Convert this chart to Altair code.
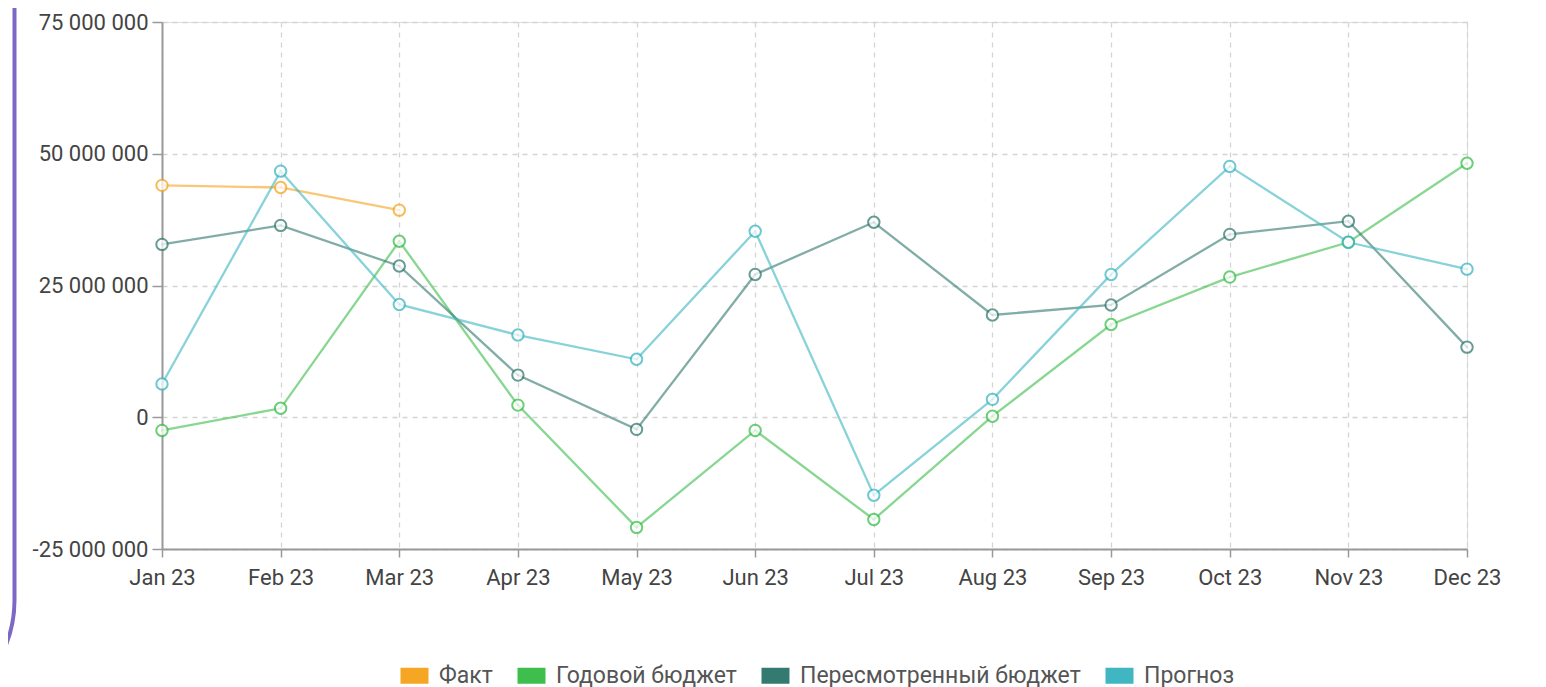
import altair as alt
import pandas as pd

months = ["Jan 23", "Feb 23", "Mar 23", "Apr 23", "May 23", "Jun 23",
          "Jul 23", "Aug 23", "Sep 23", "Oct 23", "Nov 23", "Dec 23"]

fact = [44.0e6, 43.6e6, 39.3e6]
annual_budget = [-2.5e6, 1.7e6, 33.4e6, 2.3e6, -20.9e6, -2.5e6,
                 -19.4e6, 0.2e6, 17.6e6, 26.6e6, 33.2e6, 48.2e6]
revised_budget = [32.8e6, 36.4e6, 28.7e6, 8.0e6, -2.3e6, 27.1e6,
                  37.0e6, 19.4e6, 21.3e6, 34.7e6, 37.2e6, 13.3e6]
forecast = [6.3e6, 46.7e6, 21.4e6, 15.6e6, 11.0e6, 35.3e6,
            -14.8e6, 3.4e6, 27.1e6, 47.6e6, 33.2e6, 28.1e6]

series_names = ["Факт", "Годовой бюджет", "Пересмотренный бюджет", "Прогноз"]
series_colors = ["#F5A623", "#3DBE4D", "#357A70", "#3FB6C2"]
y_ticks = [-25e6, 0, 25e6, 50e6, 75e6]

rows = []
for name, vals in zip(series_names, [fact, annual_budget, revised_budget, forecast]):
    for m, v in zip(months, vals):
        rows.append({"month": m, "series": name, "value": v})
df = pd.DataFrame(rows)

FONT = "Roboto"
FS = 22

x_enc = alt.X("month:N", sort=months, scale=alt.Scale(type="point", padding=0),
              axis=alt.Axis(title=None, labelAngle=0, labelFontSize=FS, labelColor="#444",
                            labelFont=FONT, tickSize=8, tickColor="#999", tickWidth=1.5,
                            domainColor="#999", domainWidth=2, labelPadding=10, grid=True,
                            gridDash=[5, 5], gridColor="#d4d4d4", gridWidth=1.3))
y_enc = alt.Y("value:Q", scale=alt.Scale(domain=[-25e6, 75e6], nice=False, zero=False),
              axis=alt.Axis(title=None, values=y_ticks, labelFontSize=FS, labelColor="#444",
                            labelFont=FONT, tickSize=10, tickColor="#999", tickWidth=1.5,
                            domainColor="#999", domainWidth=2, labelPadding=4, grid=True,
                            gridDash=[5, 5], gridColor="#d4d4d4", gridWidth=1.3,
                            labelExpr="(datum.value < 0 ? '-' : '') + join(split(format(abs(datum.value), ',d'), ','), ' ')"))

color_enc = alt.Color("series:N", scale=alt.Scale(domain=series_names, range=series_colors),
                      sort=series_names,
                      legend=alt.Legend(title=None, orient="none", direction="horizontal",
                                        legendX=241, legendY=642,
                                        symbolType="M-1.75,-1L1.75,-1L1.75,1L-1.75,1Z",
                                        symbolSize=256, symbolStrokeWidth=0, symbolOpacity=1,
                                        labelFontSize=23, labelColor="#555", labelFont=FONT,
                                        labelLimit=500, labelOffset=13, columnPadding=24))

base = alt.Chart(df)

legend_layer = base.mark_point(size=4, filled=True, shape="square", opacity=1).encode(
    x=x_enc, y=y_enc, color=color_enc,
)

lines = base.mark_line(strokeWidth=2.3, opacity=0.62).encode(
    x=x_enc, y=y_enc,
    color=alt.Color("series:N", legend=None),
    detail="series:N",
)

points = base.mark_point(filled=False, size=130, strokeWidth=2, opacity=0.75, fill="white", shape="circle").encode(
    x=x_enc, y=y_enc,
    color=alt.Color("series:N", legend=None),
)

border = alt.Chart(alt.Data(values=[{"a": 1}])).mark_rect(
    fill=None, stroke="#7E68C6", strokeWidth=4, cornerRadius=123
).encode(
    x=alt.value(-600), x2=alt.value(-147.5),
    y=alt.value(-200), y2=alt.value(701),
)

chart = alt.layer(border, legend_layer, lines, points).properties(
    width=1305, height=527,
    autosize=alt.AutoSizeParams(type="none"),
    padding={"left": 154, "top": 14, "right": 70, "bottom": 150},
).configure_view(stroke=None).configure(background="white")

chart.save("out.html", embed_options={"renderer": "svg", "actions": False})
